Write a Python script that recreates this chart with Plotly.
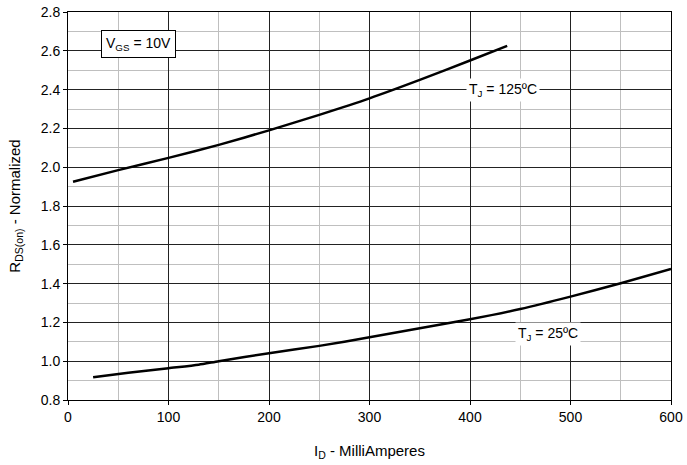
import plotly.graph_objects as go

id_125 = [5, 50, 100, 150, 200, 250, 300, 350, 400, 437]
r_125 = [1.925, 1.985, 2.048, 2.115, 2.19, 2.27, 2.355, 2.45, 2.55, 2.625]
id_25 = [25, 60, 100, 130, 150, 200, 250, 300, 350, 400, 450, 500, 550, 600]
r_25 = [0.917, 0.94, 0.964, 0.982, 1.0, 1.041, 1.079, 1.123, 1.170, 1.216, 1.269, 1.333, 1.402, 1.476]
x_ticks = [0, 100, 200, 300, 400, 500, 600]
y_ticks = [0.8, 1.0, 1.2, 1.4, 1.6, 1.8, 2.0, 2.2, 2.4, 2.6, 2.8]

FONT = "Liberation Sans, Arial, sans-serif"

fig = go.Figure()
fig.add_trace(go.Scatter(x=id_125, y=r_125, mode="lines", line=dict(color="black", width=2.5, shape="spline", smoothing=0.6), showlegend=False))
fig.add_trace(go.Scatter(x=id_25, y=r_25, mode="lines", line=dict(color="black", width=2.5, shape="spline", smoothing=0.6), showlegend=False))

fig.add_annotation(x=433, y=2.4, text="T<sub>J</sub> = 125ºC", showarrow=False, bgcolor="white",
                   font=dict(family=FONT, size=14, color="black"), borderpad=2)
fig.add_annotation(x=478, y=1.14, text="T<sub>J</sub> = 25ºC", showarrow=False, bgcolor="white",
                   font=dict(family=FONT, size=14, color="black"), borderpad=2)
fig.add_annotation(x=70, y=2.636, text="V<sub>GS</sub> = 10V", showarrow=False, bgcolor="white",
                   bordercolor="black", borderwidth=1, borderpad=4,
                   font=dict(family=FONT, size=14, color="black"))

fig.update_xaxes(range=[0, 600], tickvals=x_ticks, showgrid=True, gridcolor="#222222", gridwidth=1,
                 minor=dict(dtick=50, tick0=0, showgrid=True, gridcolor="#bfbfbf", gridwidth=1),
                 showline=True, linecolor="black", linewidth=1, mirror=True,
                 ticks="outside", ticklen=4, tickcolor="black", zeroline=False, automargin=False,
                 tickfont=dict(family=FONT, size=14, color="black"),
                 title=dict(text="I<sub>D</sub> - MilliAmperes", font=dict(family=FONT, size=15, color="black"), standoff=21))
fig.update_yaxes(range=[0.8, 2.8], tickvals=y_ticks, tickformat=".1f", showgrid=True, gridcolor="#222222", gridwidth=1,
                 minor=dict(dtick=0.1, tick0=0.8, showgrid=True, gridcolor="#bfbfbf", gridwidth=1),
                 showline=True, linecolor="black", linewidth=1, mirror=True,
                 ticks="outside", ticklen=4, tickcolor="black", zeroline=False, automargin=False,
                 tickfont=dict(family=FONT, size=14, color="black"),
                 title=dict(text="R<sub>DS(on)</sub> - Normalized", font=dict(family=FONT, size=15, color="black"), standoff=16))

fig.update_layout(width=687, height=465, margin=dict(l=68, r=16, t=12, b=65),
                  plot_bgcolor="white", paper_bgcolor="white")

# remove the page's default 8px body margin so the figure fills the window exactly
fig.write_html("out.html", config={"displayModeBar": False},
               post_script="document.body.style.margin='0';document.body.style.overflow='hidden';")
